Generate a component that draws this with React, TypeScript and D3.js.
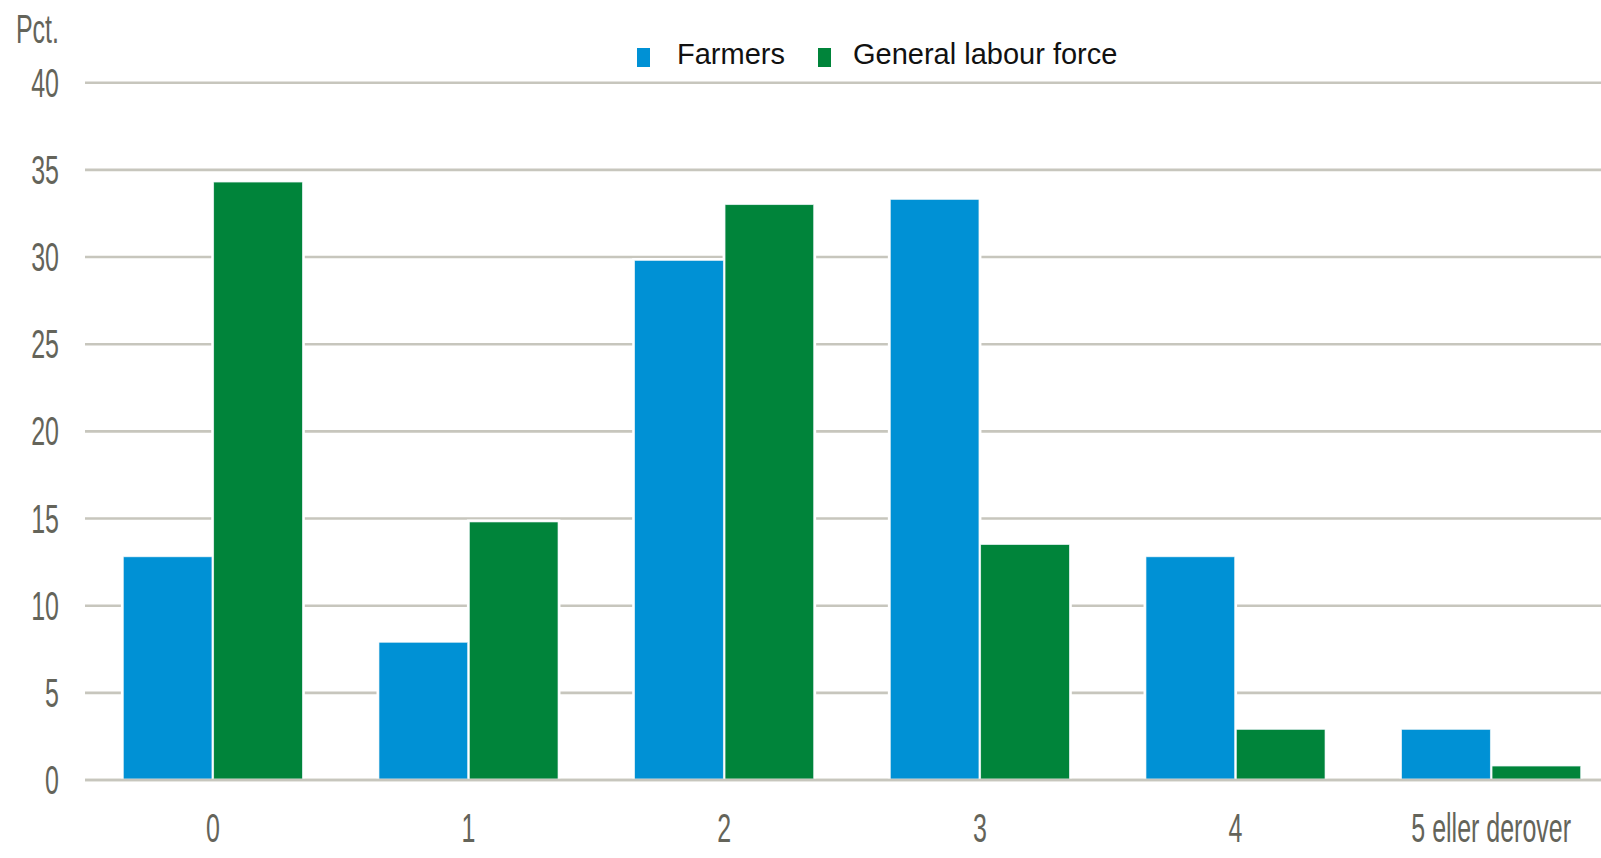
import React from "react";
import * as d3 from "d3";

const categories = ["0", "1", "2", "3", "4", "5 eller derover"];
const farmers = [12.8, 7.9, 29.8, 33.3, 12.8, 2.9];
const labourForce = [34.3, 14.8, 33.0, 13.5, 2.9, 0.8];
const seriesNames = ["Farmers", "General labour force"];
const seriesColors = ["#0091d5", "#00843a"];
const yTicks = [0, 5, 10, 15, 20, 25, 30, 35, 40];
const yUnit = "Pct.";

const W = 1601;
const H = 858;

export default function App() {
  const x = d3
    .scaleBand<string>()
    .domain(categories)
    .range([85, 1619])
    .paddingInner(0.3)
    .paddingOuter(0.15);
  const inner = d3
    .scaleBand<number>()
    .domain([0, 1])
    .range([0, x.bandwidth()])
    .paddingInner(0.02);
  const y = d3.scaleLinear().domain([0, 40]).range([780, 82.7]);
  const series = [farmers, labourForce];
  const axisFont = "'Liberation Sans', Arial, sans-serif";
  const axisColor = "#64645a";
  const sx = 0.61;

  return (
    <svg width={W} height={H} style={{ position: "absolute", left: 0, top: 0, background: "#fff" }}>
      <rect x={0} y={0} width={W} height={H} fill="#fff" />
      {/* gridlines */}
      {yTicks.map((t) => (
        <line key={"g" + t} x1={85} x2={W} y1={y(t)} y2={y(t)} stroke="#c7c6bd" strokeWidth={2.6} />
      ))}
      {/* white halos around bars */}
      {series.map((vals, si) =>
        vals.map((v, i) => {
          const bx = (x(categories[i]) as number) + (inner(si) as number);
          return (
            <rect
              key={"h" + si + "-" + i}
              x={bx - 2.5}
              y={y(v) - 2.5}
              width={inner.bandwidth() + 5}
              height={y(0) - y(v) + 1}
              fill="#fff"
            />
          );
        })
      )}
      {/* bars */}
      {series.map((vals, si) =>
        vals.map((v, i) => {
          const bx = (x(categories[i]) as number) + (inner(si) as number);
          return (
            <rect
              key={"b" + si + "-" + i}
              x={bx}
              y={y(v)}
              width={inner.bandwidth()}
              height={y(0) - y(v) - 1}
              fill={seriesColors[si]}
              stroke="#e6f2f5"
              strokeWidth={0.6}
            />
          );
        })
      )}
      <line x1={85} x2={W} y1={y(0)} y2={y(0)} stroke="#c7c6bd" strokeWidth={2.6} />
      {/* y labels */}
      {yTicks.map((t) => (
        <text
          key={"yl" + t}
          transform={`translate(59, ${y(t) + 14}) scale(${sx}, 1)`}
          textAnchor="end"
          fontFamily={axisFont}
          fontSize={41}
          fill={axisColor}
        >
          {t}
        </text>
      ))}
      <text
        transform={`translate(59, 43) scale(${sx}, 1)`}
        textAnchor="end"
        fontFamily={axisFont}
        fontSize={41}
        fill={axisColor}
      >
        {yUnit}
      </text>
      {/* x labels */}
      {categories.map((c) => (
        <text
          key={"xl" + c}
          transform={`translate(${(x(c) as number) + x.bandwidth() / 2}, 842) scale(${sx}, 1)`}
          textAnchor="middle"
          fontFamily={axisFont}
          fontSize={41}
          fill={axisColor}
        >
          {c}
        </text>
      ))}
      {/* legend */}
      <rect x={652} y={40} width={150} height={40} fill="#fff" />
      <rect x={637} y={48} width={13} height={19} fill={seriesColors[0]} />
      <text x={677} y={64} fontFamily={axisFont} fontSize={29} fill="#111">
        {seriesNames[0]}
      </text>
      <rect x={818} y={48} width={13} height={19} fill={seriesColors[1]} />
      <text x={853} y={64} fontFamily={axisFont} fontSize={29} fill="#111">
        {seriesNames[1]}
      </text>
    </svg>
  );
}
